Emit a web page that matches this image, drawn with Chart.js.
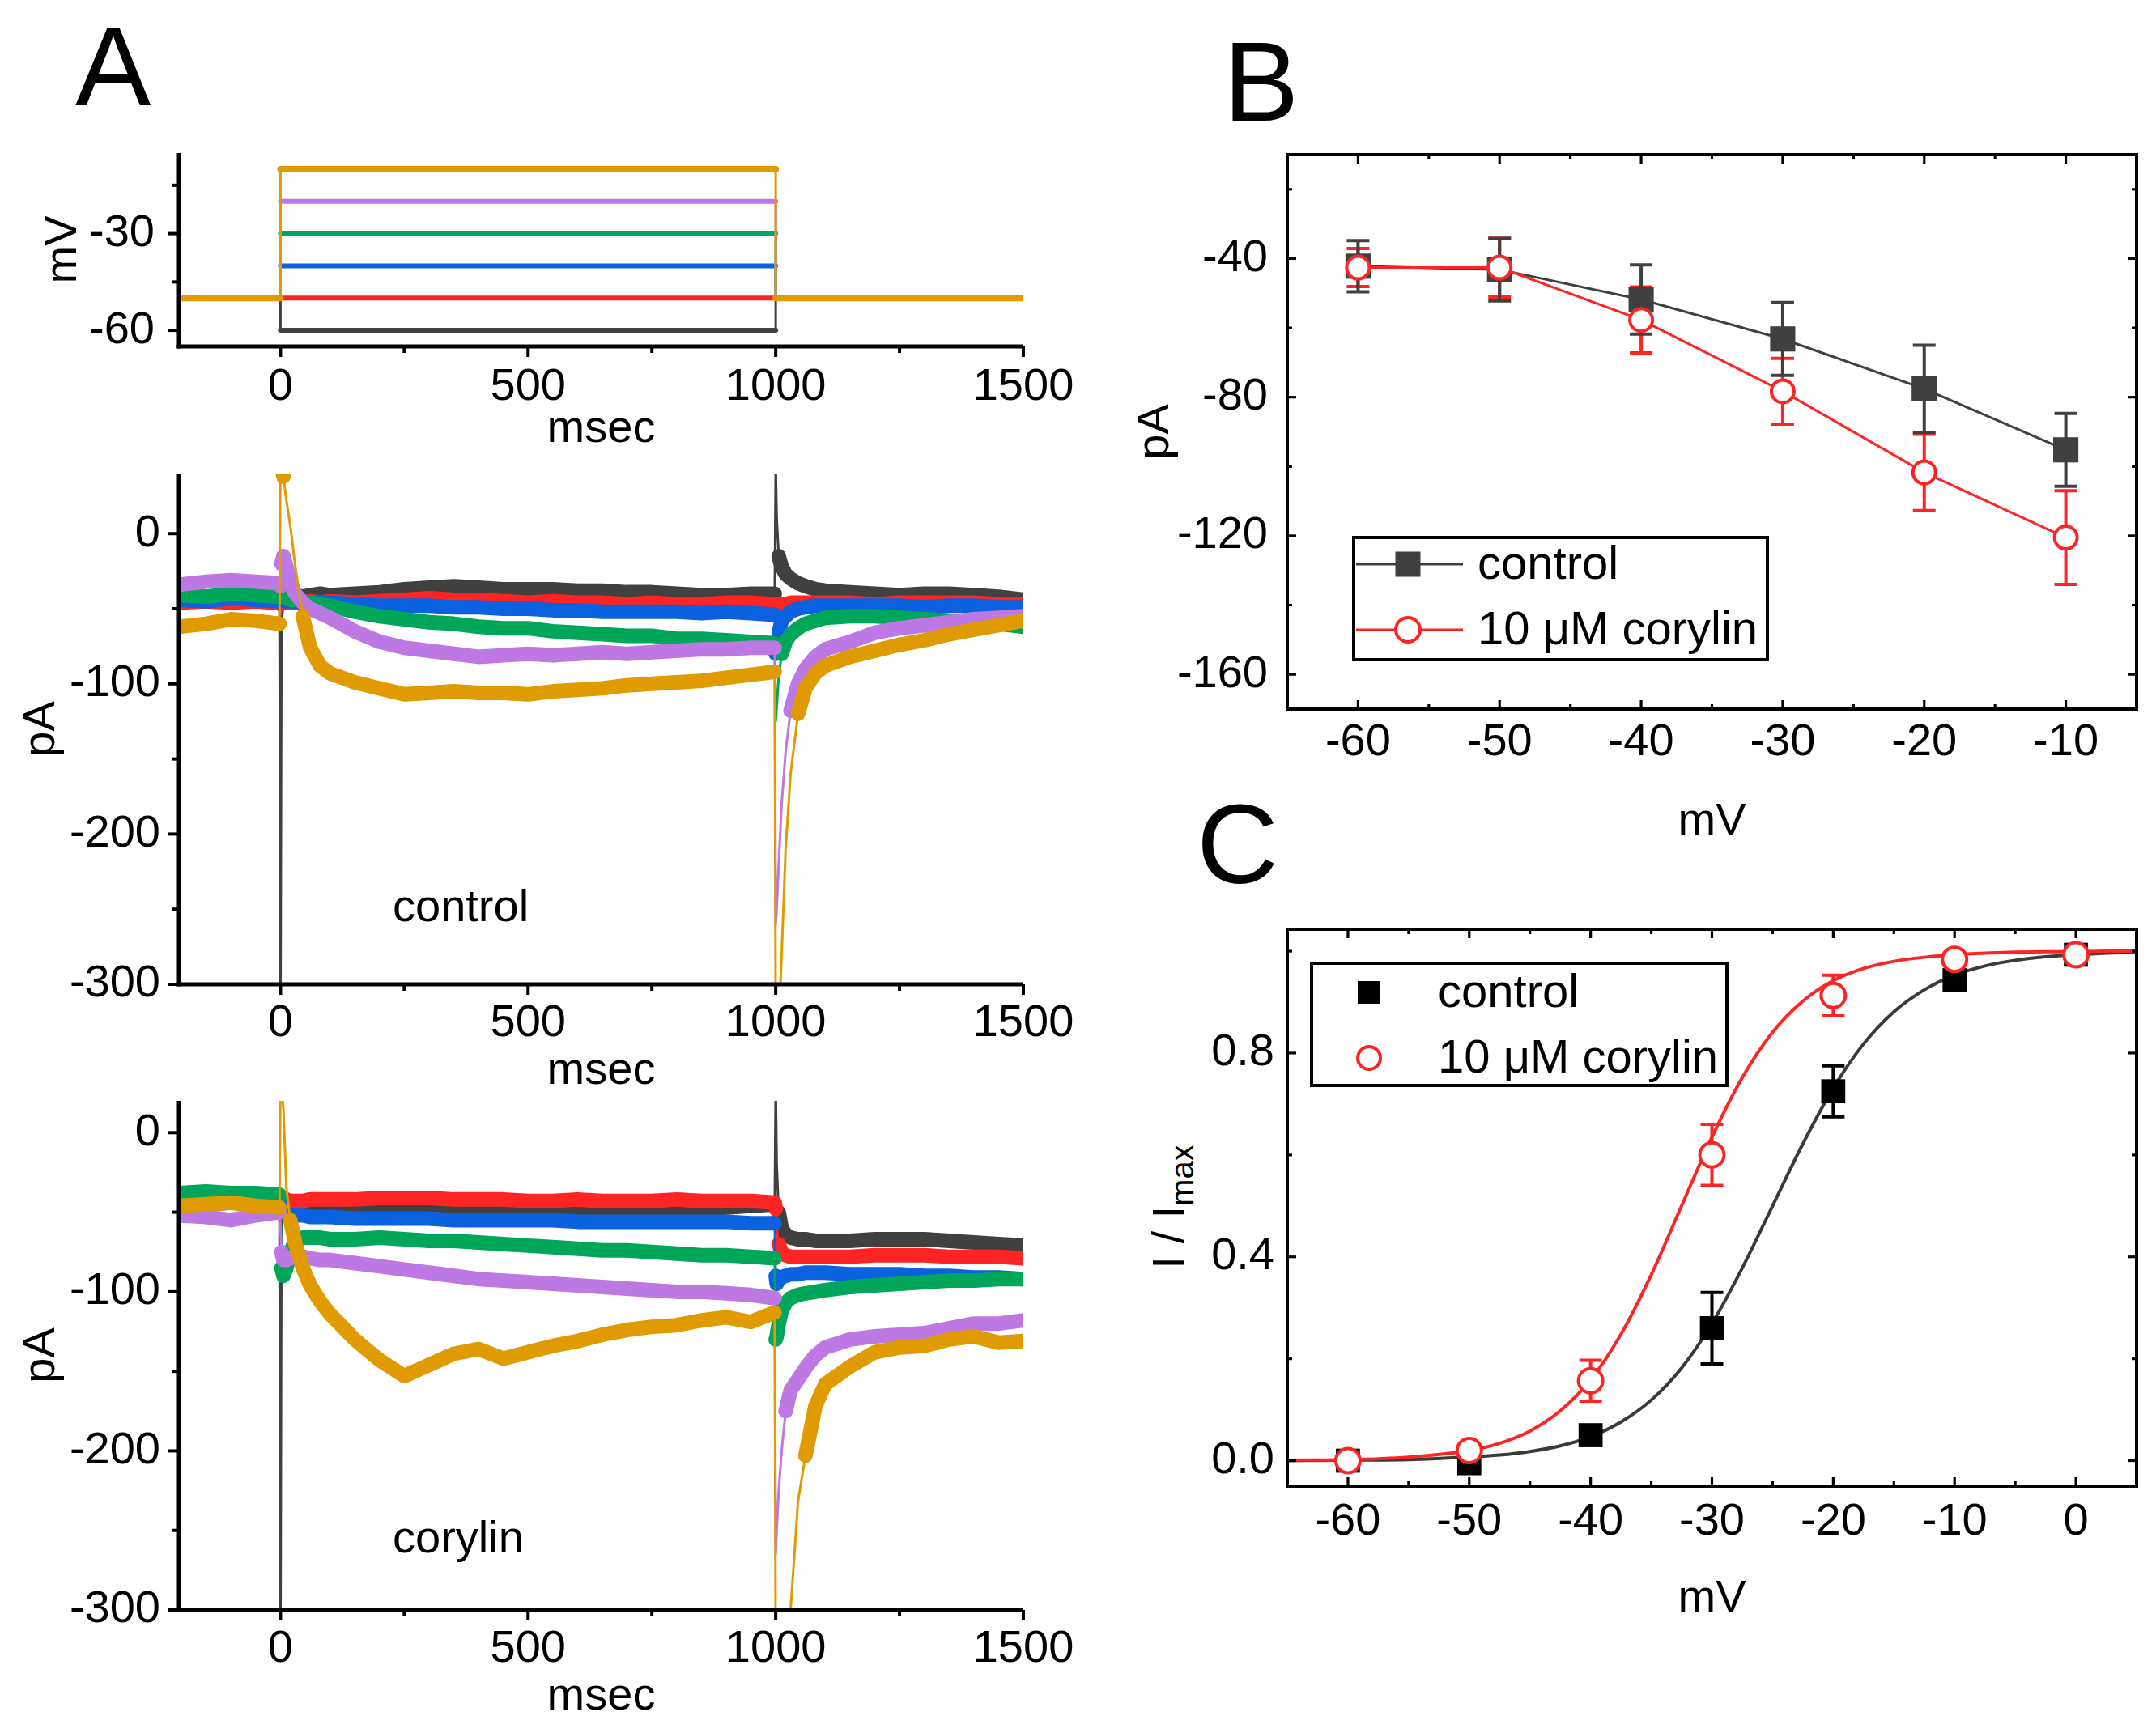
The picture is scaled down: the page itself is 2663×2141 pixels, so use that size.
<!DOCTYPE html>
<html><head><meta charset="utf-8">
<script src="https://cdn.jsdelivr.net/npm/chart.js"></script>
<style>
html,body{margin:0;padding:0;background:#fff;}
#fig{position:relative;width:2663px;height:2141px;background:#fff;overflow:hidden;font-family:'Liberation Sans',Arial,Helvetica,sans-serif;color:#000;}
#fig canvas{position:absolute;}
.lbl{position:absolute;line-height:1;white-space:nowrap;}
</style></head><body><div id="fig">
<div class="lbl" style="left:93px;top:12px;font-size:140px">A</div>
<div class="lbl" style="left:1511px;top:31px;font-size:140px">B</div>
<div class="lbl" style="left:1478px;top:973px;font-size:140px">C</div>
<div class="lbl" style="left:485px;top:1091px;font-size:56px">control</div>
<div class="lbl" style="left:485px;top:1871px;font-size:56px">corylin</div>
<div class="lbl" style="left:1447px;top:1491px;font-size:56px;transform:translate(-50%,-50%) rotate(-90deg);">I / I<sub style="font-size:40px;vertical-align:-12px">max</sub></div>
</div>
<script>
// ---------------- DATA ----------------
// Panel A (top): voltage protocol
const voltT   = [-205, 0, 0, 1000, 1000, 1500];
const vBlack  = [-50, -50, -60, -60, -50, -50];
const vRed    = [-50, -50, -50, -50, -50, -50];
const vBlue   = [-50, -50, -40, -40, -50, -50];
const vGreen  = [-50, -50, -30, -30, -50, -50];
const vPurple = [-50, -50, -20, -20, -50, -50];
const vOrange = [-50, -50, -10, -10, -50, -50];

// Panel A (middle / bottom): current traces, sampled times (msec)
const traceT = [-205,-150,-100,-50,-2,0,2,6,12,20,30,45,60,80,100,150,200,250,300,350,400,450,500,550,600,650,700,750,800,850,900,950,998,1000,1002,1006,1012,1020,1030,1045,1060,1080,1100,1150,1200,1250,1300,1350,1400,1450,1500];

// control (pA)
const ctrlBlack  = [-44,-45,-44,-45,-46,-330,-60,-45,-42,-42,-41,-42,-41,-40,-41,-40,-39,-37,-36,-35,-36,-37,-37,-37,-38,-38,-39,-39,-40,-41,-41,-40,-40,45,10,-15,-22,-27,-30,-33,-35,-37,-38,-39,-40,-41,-40,-40,-41,-42,-44];
const ctrlRed    = [-46,-45,-46,-45,-46,-47,-46,-46,-45,-46,-46,-46,-45,-46,-45,-46,-45,-44,-43,-44,-44,-45,-46,-45,-46,-46,-47,-46,-47,-47,-46,-46,-47,-48,-50,-48,-47,-47,-46,-46,-46,-46,-46,-46,-47,-46,-46,-46,-46,-47,-47];
const ctrlBlue   = [-44,-45,-43,-44,-45,-42,-38,-42,-45,-45,-45,-46,-46,-46,-46,-47,-48,-48,-48,-49,-49,-50,-50,-51,-51,-52,-52,-52,-52,-53,-52,-53,-54,-80,-76,-66,-58,-55,-52,-50,-49,-48,-48,-48,-48,-48,-49,-48,-48,-49,-49];
const ctrlGreen  = [-41,-42,-40,-41,-42,-40,-36,-40,-43,-44,-44,-45,-46,-47,-48,-52,-55,-57,-59,-60,-62,-63,-63,-65,-66,-67,-68,-68,-70,-70,-71,-72,-73,-125,-115,-95,-80,-72,-67,-63,-60,-58,-56,-55,-55,-56,-57,-58,-59,-60,-62];
const ctrlPurple = [-34,-32,-31,-32,-33,-35,-20,-15,-22,-33,-40,-46,-50,-53,-56,-65,-72,-76,-78,-80,-82,-81,-80,-81,-80,-79,-80,-79,-78,-77,-77,-76,-76,-260,-250,-220,-180,-145,-118,-100,-90,-82,-77,-72,-66,-63,-61,-59,-57,-56,-55];
const ctrlOrange = [-62,-60,-57,-58,-60,45,45,38,22,5,-22,-55,-76,-88,-93,-99,-103,-107,-106,-105,-106,-106,-107,-105,-104,-103,-101,-100,-99,-98,-96,-94,-92,-330,-330,-330,-280,-210,-160,-120,-103,-93,-88,-82,-78,-74,-71,-67,-64,-61,-58];

// corylin (pA)
const coryBlack  = [-44,-45,-44,-45,-45,-330,-50,-48,-48,-48,-48,-48,-48,-49,-49,-49,-49,-49,-49,-49,-49,-50,-50,-50,-50,-50,-50,-49,-49,-48,-47,-46,-45,30,-20,-50,-60,-64,-66,-67,-67,-68,-68,-68,-67,-67,-67,-68,-69,-70,-71];
const coryRed    = [-40,-39,-40,-40,-41,-42,-42,-42,-42,-43,-43,-43,-42,-42,-42,-42,-41,-41,-41,-42,-42,-42,-43,-43,-42,-43,-43,-43,-42,-43,-43,-43,-44,-48,-60,-70,-75,-77,-78,-78,-78,-78,-78,-78,-77,-77,-77,-78,-78,-78,-79];
const coryBlue   = [-40,-40,-39,-40,-41,-44,-48,-50,-51,-52,-52,-52,-53,-53,-53,-54,-54,-54,-54,-55,-55,-55,-55,-55,-56,-56,-56,-56,-56,-56,-56,-57,-57,-90,-95,-93,-91,-90,-89,-89,-88,-88,-88,-89,-89,-89,-90,-90,-91,-91,-92];
const coryGreen  = [-38,-37,-38,-38,-39,-40,-85,-90,-85,-75,-68,-66,-66,-66,-67,-67,-66,-67,-68,-68,-69,-70,-71,-72,-73,-74,-74,-75,-76,-77,-77,-78,-79,-130,-128,-120,-112,-107,-104,-102,-101,-100,-99,-97,-96,-95,-94,-93,-93,-92,-92];
const coryPurple = [-52,-53,-55,-52,-50,-60,-75,-80,-80,-79,-78,-78,-79,-80,-80,-82,-84,-86,-88,-90,-92,-93,-94,-95,-96,-97,-98,-99,-100,-100,-101,-102,-104,-265,-250,-225,-200,-175,-162,-155,-148,-140,-135,-130,-128,-127,-126,-123,-120,-120,-118];
const coryOrange = [-46,-45,-44,-46,-47,30,30,15,-35,-55,-70,-85,-96,-106,-114,-130,-143,-153,-146,-139,-136,-142,-138,-134,-131,-127,-124,-122,-121,-118,-116,-119,-113,-330,-330,-330,-330,-330,-300,-232,-203,-172,-158,-147,-138,-135,-134,-130,-128,-132,-131];

// Panel B: I-V
const bV       = [-60, -50, -40, -30, -20, -10];
const bCtrl    = [-42.2, -43.2, -51.8, -63.2, -77.6, -95.2];
const bCtrlErr = [7.4, 9, 10, 10.5, 12.6, 10.5];
const bCory    = [-42.6, -42.6, -57.7, -78.3, -101.7, -120.5];
const bCoryErr = [5.5, 8.5, 9.5, 9.5, 11, 13.5];

// Panel C: activation
const cV       = [-60, -50, -40, -30, -20, -10, 0];
const cCtrl    = [0, -0.005, 0.05, 0.26, 0.725, 0.943, 0.993];
const cCtrlErr = [0.01, 0.01, 0.01, 0.07, 0.05, 0.012, 0.01];
const cCory    = [0, 0.02, 0.157, 0.6, 0.913, 0.984, 0.993];
const cCoryErr = [0.01, 0.01, 0.04, 0.06, 0.04, 0.01, 0.012];
// fitted curves
const fitV       = [-65,-60,-55,-50,-47.5,-45,-42.5,-40,-37.5,-35,-32.5,-30,-27.5,-25,-22.5,-20,-17.5,-15,-12.5,-10,-7.5,-5,-2.5,0,2.5,5];
const fitCtrl    = [0.000,0.001,0.002,0.007,0.011,0.018,0.029,0.047,0.076,0.119,0.182,0.269,0.378,0.500,0.622,0.731,0.818,0.881,0.924,0.953,0.971,0.982,0.989,0.993,0.996,0.998];
const fitCory    = [0.001,0.002,0.007,0.020,0.034,0.058,0.098,0.159,0.248,0.365,0.500,0.635,0.752,0.841,0.902,0.942,0.966,0.980,0.988,0.993,0.996,0.998,0.999,0.999,1.000,1.000];

// tick values
const aXMajor = [0, 500, 1000, 1500],  aXMinor = [250, 750, 1250];
const vYMajor = [-60, -30],            vYMinor = [-45, -15];
const iYMajor = [-300, -200, -100, 0], iYMinor = [-250, -150, -50];
const bXMajor = [-60, -50, -40, -30, -20, -10], bXMinor = [-55, -45, -35, -25, -15];
const bYMajor = [-160, -120, -80, -40], bYMinor = [-140, -100, -60, -20];
const cXMajor = [-60, -50, -40, -30, -20, -10, 0], cXMinor = [-55, -45, -35, -25, -15, -5];
const cYMajor = [0, 0.4, 0.8], cYMinor = [0.2, 0.6, 1.0];

// ---------------- STYLE / HELPERS ----------------
const FAM = "'Liberation Sans', Arial, Helvetica, sans-serif";
Chart.defaults.font.family = FAM;
Chart.defaults.color = '#000';
const COL = {black:'#404040', red:'#ff2424', blue:'#0a62e0', green:'#00a65a', purple:'#bd78e3', orange:'#e09b00'};
const fig = document.getElementById('fig');

function isIn(arr, v) { return arr.some(m => Math.abs(m - v) < 1e-9); }

function axis(min, max, major, minor, fmt, pad, title) {
  return {
    type: 'linear', min, max,
    grid: {display: false, drawTicks: false}, border: {display: false},
    afterBuildTicks: s => { s.ticks = major.concat(minor).sort((a, b) => a - b).map(v => ({value: v})); },
    ticks: {autoSkip: false, maxRotation: 0, minRotation: 0, padding: pad, font: {size: 56}, color: '#000',
            callback: v => isIn(major, v) ? fmt(v) : ''},
    title: {display: !!title, text: title || '', font: {size: 56}, color: '#000', padding: 0}
  };
}

function makeFrame(mode, xMaj, xMin, yMaj, yMin, lw, majLen, minLen) {
  return {
    id: 'frame' + mode,
    afterDatasetsDraw(chart) {
      const ctx = chart.ctx, a = chart.chartArea, xs = chart.scales.x, ys = chart.scales.y;
      ctx.save();
      ctx.strokeStyle = '#000'; ctx.lineCap = 'butt';
      const seg = (x1, y1, x2, y2) => { ctx.beginPath(); ctx.moveTo(x1, y1); ctx.lineTo(x2, y2); ctx.stroke(); };
      ctx.lineWidth = lw;
      if (mode === 'L') {
        ctx.beginPath(); ctx.moveTo(a.left, a.top); ctx.lineTo(a.left, a.bottom + lw / 2); ctx.stroke();
        ctx.beginPath(); ctx.moveTo(a.left - lw / 2, a.bottom); ctx.lineTo(a.right, a.bottom); ctx.stroke();
        ctx.lineWidth = lw * 0.8;
        xMaj.forEach(v => { const p = xs.getPixelForValue(v); seg(p, a.bottom, p, a.bottom + majLen); });
        xMin.forEach(v => { const p = xs.getPixelForValue(v); seg(p, a.bottom, p, a.bottom + minLen); });
        yMaj.forEach(v => { const p = ys.getPixelForValue(v); seg(a.left, p, a.left - majLen, p); });
        yMin.forEach(v => { const p = ys.getPixelForValue(v); seg(a.left, p, a.left - minLen, p); });
      } else {
        ctx.strokeRect(a.left, a.top, a.right - a.left, a.bottom - a.top);
        ctx.lineWidth = lw * 0.8;
        const xt = (arr, len) => arr.forEach(v => { const p = xs.getPixelForValue(v); seg(p, a.bottom, p, a.bottom - len); seg(p, a.top, p, a.top + len); });
        const yt = (arr, len) => arr.forEach(v => { const p = ys.getPixelForValue(v); seg(a.left, p, a.left + len, p); seg(a.right, p, a.right - len, p); });
        xt(xMaj, majLen); xt(xMin, minLen); yt(yMaj, majLen); yt(yMin, minLen);
      }
      ctx.restore();
    }
  };
}

function makeErrorBars(capHalf, lw) {
  return {
    id: 'errbars',
    beforeDatasetsDraw(chart) {
      const ctx = chart.ctx, ys = chart.scales.y;
      ctx.save();
      chart.data.datasets.forEach((ds, i) => {
        if (!ds.errors) return;
        const meta = chart.getDatasetMeta(i);
        ctx.strokeStyle = ds.borderColor; ctx.lineWidth = lw; ctx.lineCap = 'butt';
        meta.data.forEach((pt, j) => {
          const v = ds.data[j].y, e = ds.errors[j];
          const y1 = ys.getPixelForValue(v + e), y2 = ys.getPixelForValue(v - e);
          ctx.beginPath();
          ctx.moveTo(pt.x, y1); ctx.lineTo(pt.x, y2);
          ctx.moveTo(pt.x - capHalf, y1); ctx.lineTo(pt.x + capHalf, y1);
          ctx.moveTo(pt.x - capHalf, y2); ctx.lineTo(pt.x + capHalf, y2);
          ctx.stroke();
        });
      });
      ctx.restore();
    }
  };
}

function makeLegend(spec) {
  return {
    id: 'boxlegend',
    afterDraw(chart) {
      const ctx = chart.ctx, a = chart.chartArea;
      const bx = a.left + spec.x, by = a.top + spec.y;
      ctx.save();
      ctx.fillStyle = '#fff';
      ctx.fillRect(bx, by, spec.w, spec.h);
      ctx.strokeStyle = '#000'; ctx.lineWidth = 4;
      ctx.strokeRect(bx, by, spec.w, spec.h);
      spec.rows.forEach(r => {
        const y = by + r.dy, mx = bx + spec.markerX;
        if (spec.line) {
          ctx.strokeStyle = r.color; ctx.lineWidth = 3;
          ctx.beginPath(); ctx.moveTo(bx + 3, y); ctx.lineTo(bx + spec.lineTo, y); ctx.stroke();
        }
        if (r.marker === 'rect') {
          ctx.fillStyle = r.color;
          ctx.fillRect(mx - spec.sq / 2, y - spec.sq / 2, spec.sq, spec.sq);
        } else {
          ctx.fillStyle = '#fff'; ctx.strokeStyle = r.color; ctx.lineWidth = 4;
          ctx.beginPath(); ctx.arc(mx, y, spec.rad, 0, Math.PI * 2); ctx.fill(); ctx.stroke();
        }
        ctx.fillStyle = '#000';
        ctx.font = spec.font + 'px ' + FAM;
        ctx.textBaseline = 'middle'; ctx.textAlign = 'left';
        ctx.fillText(r.text, bx + spec.textX, y + 2);
      });
      ctx.restore();
    }
  };
}

function addChart(area, m, config) {
  const c = document.createElement('canvas');
  const W = m.left + (area.r - area.l) + m.right;
  const H = m.top + (area.b - area.t) + m.bottom;
  c.width = W; c.height = H;
  c.style.left = (area.l - m.left) + 'px'; c.style.top = (area.t - m.top) + 'px';
  c.style.width = W + 'px'; c.style.height = H + 'px';
  fig.appendChild(c);
  const o = config.options;
  o.responsive = false; o.animation = false; o.devicePixelRatio = 1; o.events = [];
  o.layout = {autoPadding: false, padding: {left: 0, top: m.top, right: m.right, bottom: 0}};
  o.plugins = {legend: {display: false}, tooltip: {enabled: false}};
  o.scales.x.afterFit = s => { s.height = m.bottom; s.paddingLeft = 0; s.paddingRight = 0; };
  o.scales.y.afterFit = s => { s.width = m.left; s.paddingTop = 0; s.paddingBottom = 0; };
  return new Chart(c, config);
}

// thin line only for very steep (capacitive-spike) segments, thick noisy band elsewhere
function isTransient(ctx) {
  const dx = Math.abs(ctx.p1.x - ctx.p0.x), dy = Math.abs(ctx.p1.y - ctx.p0.y);
  return dy > 5 * dx + 4;
}
function lineDS(xs, ys, color, order, thick) {
  return {
    data: xs.map((x, i) => ({x, y: ys[i]})),
    borderColor: color, borderWidth: thick, pointRadius: 0, tension: 0, clip: 0, order,
    borderJoinStyle: 'round', borderCapStyle: 'round',
    segment: {borderWidth: ctx => isTransient(ctx) ? 3 : thick}
  };
}

const fmtInt = v => String(v);

// ---------------- PANEL A top: voltage ----------------
addChart({l: 221, t: 189, r: 1264, b: 428}, {left: 176, top: 30, right: 100, bottom: 136}, {
  type: 'line',
  data: {datasets: [
    lineDS(voltT, vOrange, COL.orange, 1, 8),
    lineDS(voltT, vPurple, COL.purple, 2, 6),
    lineDS(voltT, vGreen, COL.green, 3, 6),
    lineDS(voltT, vBlue, COL.blue, 4, 6),
    lineDS(voltT, vRed, COL.red, 5, 6),
    lineDS(voltT, vBlack, COL.black, 6, 6)
  ]},
  options: {scales: {
    x: axis(-205, 1500, aXMajor, aXMinor, fmtInt, 17, 'msec'),
    y: axis(-65, -5, vYMajor, vYMinor, fmtInt, 30, 'mV')
  }},
  plugins: [makeFrame('L', aXMajor, aXMinor, vYMajor, vYMinor, 5, 13, 8)]
});

// ---------------- PANEL A middle: control currents ----------------
function traceSets(bk, rd, bl, gr, pu, or) {
  const w = 18;
  return [
    lineDS(traceT, or, COL.orange, 1, w),
    lineDS(traceT, pu, COL.purple, 2, w),
    lineDS(traceT, gr, COL.green, 3, w),
    lineDS(traceT, bl, COL.blue, 4, w),
    lineDS(traceT, rd, COL.red, 5, w),
    lineDS(traceT, bk, COL.black, 6, w)
  ];
}
addChart({l: 221, t: 585, r: 1264, b: 1216}, {left: 203, top: 40, right: 100, bottom: 141}, {
  type: 'line',
  data: {datasets: traceSets(ctrlBlack, ctrlRed, ctrlBlue, ctrlGreen, ctrlPurple, ctrlOrange)},
  options: {scales: {
    x: axis(-205, 1500, aXMajor, aXMinor, fmtInt, 15, 'msec'),
    y: axis(-300, 40, iYMajor, iYMinor, fmtInt, 23, 'pA')
  }},
  plugins: [makeFrame('L', aXMajor, aXMinor, iYMajor, iYMinor, 5, 13, 8)]
});

// ---------------- PANEL A bottom: corylin currents ----------------
addChart({l: 221, t: 1360, r: 1264, b: 1989}, {left: 203, top: 40, right: 100, bottom: 141}, {
  type: 'line',
  data: {datasets: traceSets(coryBlack, coryRed, coryBlue, coryGreen, coryPurple, coryOrange)},
  options: {scales: {
    x: axis(-205, 1500, aXMajor, aXMinor, fmtInt, 15, 'msec'),
    y: axis(-300, 20, iYMajor, iYMinor, fmtInt, 23, 'pA')
  }},
  plugins: [makeFrame('L', aXMajor, aXMinor, iYMajor, iYMinor, 5, 13, 8)]
});

// ---------------- PANEL B ----------------
addChart({l: 1590, t: 191, r: 2639, b: 876}, {left: 196, top: 60, right: 20, bottom: 173}, {
  type: 'line',
  data: {datasets: [
    {data: bV.map((x, i) => ({x, y: bCory[i]})), errors: bCoryErr, borderColor: '#ff2424', borderWidth: 3,
     pointStyle: 'circle', pointRadius: 14, pointBorderWidth: 4, pointBackgroundColor: '#fff', pointBorderColor: '#ff2424',
     tension: 0, order: 1},
    {data: bV.map((x, i) => ({x, y: bCtrl[i]})), errors: bCtrlErr, borderColor: '#404040', borderWidth: 3,
     pointStyle: 'rect', pointRadius: 22, pointBorderWidth: 0, pointBackgroundColor: '#404040', pointBorderColor: '#404040',
     tension: 0, order: 2}
  ]},
  options: {scales: {
    x: axis(-65, -5, bXMajor, bXMinor, fmtInt, 8, 'mV'),
    y: axis(-170, -10, bYMajor, bYMinor, fmtInt, 24, 'pA')
  }},
  plugins: [makeErrorBars(14, 4), makeFrame('box', bXMajor, bXMinor, bYMajor, bYMinor, 4, 11, 6),
    makeLegend({x: 82, y: 473, w: 511, h: 151, line: true, lineTo: 135, markerX: 67, textX: 153, font: 58, sq: 31, rad: 15,
      rows: [{dy: 33, text: 'control', marker: 'rect', color: '#404040'},
             {dy: 114, text: '10 \u03BCM corylin', marker: 'circle', color: '#ff2424'}]})]
});

// ---------------- PANEL C ----------------
addChart({l: 1590, t: 1148, r: 2639, b: 1836}, {left: 200, top: 60, right: 20, bottom: 173}, {
  type: 'line',
  data: {datasets: [
    {data: cV.map((x, i) => ({x, y: cCory[i]})), errors: cCoryErr, borderColor: '#ff2424', showLine: false,
     pointStyle: 'circle', pointRadius: 15, pointBorderWidth: 4, pointBackgroundColor: '#fff', pointBorderColor: '#ff2424', order: 1},
    {data: cV.map((x, i) => ({x, y: cCtrl[i]})), errors: cCtrlErr, borderColor: '#000', showLine: false,
     pointStyle: 'rect', pointRadius: 21, pointBorderWidth: 0, pointBackgroundColor: '#000', pointBorderColor: '#000', order: 2},
    {data: fitV.map((x, i) => ({x, y: fitCory[i]})), borderColor: '#ff2424', borderWidth: 4, pointRadius: 0,
     cubicInterpolationMode: 'monotone', clip: 0, order: 3},
    {data: fitV.map((x, i) => ({x, y: fitCtrl[i]})), borderColor: '#3a3a3a', borderWidth: 4, pointRadius: 0,
     cubicInterpolationMode: 'monotone', clip: 0, order: 4}
  ]},
  options: {scales: {
    x: axis(-65, 5, cXMajor, cXMinor, fmtInt, 11, 'mV'),
    y: axis(-0.05, 1.043, cYMajor, cYMinor, v => v.toFixed(1), 16, '')
  }},
  plugins: [makeErrorBars(14, 4), makeFrame('box', cXMajor, cXMinor, cYMajor, cYMinor, 4, 11, 6),
    makeLegend({x: 30, y: 42, w: 513, h: 151, line: false, markerX: 71, textX: 156, font: 58, sq: 28, rad: 14,
      rows: [{dy: 36, text: 'control', marker: 'rect', color: '#000'},
             {dy: 117, text: '10 \u03BCM corylin', marker: 'circle', color: '#ff2424'}]})]
});
</script>
</body></html>
